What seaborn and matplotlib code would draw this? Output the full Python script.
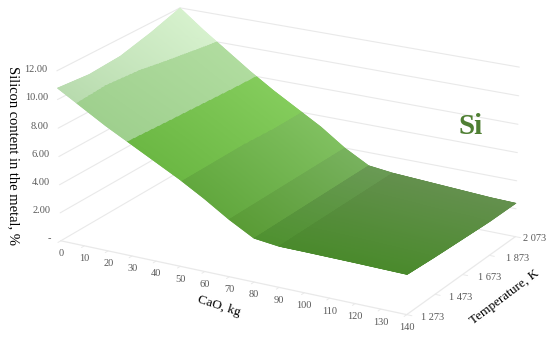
import numpy as np
import matplotlib
matplotlib.use("Agg")
import matplotlib.pyplot as plt
import seaborn as sns

# ==============================
# DATA
# ==============================
cao = [0, 10, 20, 30, 40, 50, 60, 70, 80, 90, 100, 110, 120, 130, 140]
temps = [1273, 1473, 1673, 1873, 2073]
si_1273 = [10.8, 9.8, 8.8, 7.9, 7.0, 6.1, 5.1, 4.0, 3.05, 2.85, 2.84, 2.82, 2.8, 2.77, 2.74]
si_1473 = [10.6, 9.7, 8.85, 8.0, 7.1, 6.1, 5.1, 4.0, 3.05, 2.85, 2.82, 2.78, 2.72, 2.66, 2.6]
si_1673 = [10.75, 9.85, 8.95, 8.1, 7.1, 6.1, 5.1, 4.0, 3.05, 2.85, 2.8, 2.7, 2.62, 2.55, 2.5]
si_1873 = [11.3, 10.25, 9.2, 8.2, 7.2, 6.2, 5.2, 4.0, 3.05, 2.85, 2.75, 2.65, 2.55, 2.5, 2.4]
si_2073 = [12.0, 10.7, 9.5, 8.3, 7.2, 6.2, 5.2, 4.0, 3.05, 2.85, 2.75, 2.65, 2.55, 2.45, 2.4]
si_table = [si_1273, si_1473, si_1673, si_1873, si_2073]

z_ticks = [0, 2, 4, 6, 8, 10, 12]
z_labels = ["-", "2.00", "4.00", "6.00", "8.00", "10.00", "12.00"]
t_labels = ["1 273", "1 473", "1 673", "1 873", "2 073"]

band_levels = [2.85, 3.05, 4, 6, 8, 10]
band_front = ["#4a8a2c", "#4f9130", "#5a9c36", "#62a83e", "#6cb844", "#9fd08e", "#b8dbae"]
band_back = ["#64904e", "#6a9a55", "#78b25e", "#80c060", "#84cc5c", "#b0dc9f", "#d6f1cd"]

# ==============================
# FIGURE
# ==============================
sns.set_theme(style="white")
plt.rcParams["font.family"] = ["Liberation Serif", "DejaVu Serif"]

fig = plt.figure(figsize=(5.5, 3.38), dpi=100)
ax = fig.add_axes([6 / 550, -99 / 338, 1, 550 / 338], projection="3d", computed_zorder=False)
ax.set_proj_type("persp", focal_length=1.21)
ax.view_init(elev=20, azim=-60.5)
ax.set_box_aspect((392, 235, 180), zoom=0.870)
ax.set_xlim(0, 140)
ax.set_ylim(1273, 2073)
ax.set_zlim(0, 12)
ax.set_axis_off()

# walls and floor
grid_col = "#e9e9e9"
for z in z_ticks:
    ax.plot([0, 0], [1273, 2073], [z, z], color=grid_col, lw=0.8, zorder=1)
    ax.plot([0, 140], [2073, 2073], [z, z], color=grid_col, lw=0.8, zorder=1)
ax.plot([0, 140], [1273, 1273], [0, 0], color=grid_col, lw=0.9, zorder=1)
ax.plot([140, 140], [1273, 2073], [0, 0], color=grid_col, lw=0.9, zorder=1)
for x in cao:
    ax.plot([x, x], [1273, 1255], [0, 0], color=grid_col, lw=0.7, zorder=1)
for t in temps:
    ax.plot([140, 142], [t, t], [0, 0], color=grid_col, lw=0.7, zorder=1)

# surface, refined only so that the colour bands get smooth edges
x_fine = np.linspace(cao[0], cao[-1], 701)
y_fine = np.linspace(temps[0], temps[-1], 201)
by_x = np.array([np.interp(x_fine, cao, row) for row in si_table])
z_fine = np.array([np.interp(y_fine, temps, by_x[:, i]) for i in range(len(x_fine))]).T
X, Y = np.meshgrid(x_fine, y_fine)

front = np.array([matplotlib.colors.to_rgb(c) for c in band_front])
back = np.array([matplotlib.colors.to_rgb(c) for c in band_back])
z_mid = (z_fine[:-1, :-1] + z_fine[1:, 1:]) / 2
idx = np.digitize(z_mid, band_levels)
frac = ((Y[:-1, :-1] - temps[0]) / (temps[-1] - temps[0]))[..., None]
face = front[idx] * (1 - frac) + back[idx] * frac
face = np.dstack([face, np.ones(face.shape[:2])])
ax.plot_surface(X, Y, z_fine, facecolors=face, rstride=1, cstride=1,
                shade=False, linewidth=0.3, antialiased=True, zorder=3)

# tick labels
tick_col = "#595959"
for x in cao:
    ax.text(x, 1273, -0.9, str(x), color=tick_col, fontsize=7.5, ha="center", va="center", zorder=5)
for z, lab in zip(z_ticks, z_labels):
    ax.text(-4, 1273, z, lab, color=tick_col, fontsize=7.5, ha="right", va="center", zorder=5)
for t, lab, pad in zip(temps, t_labels, [145.5, 145.5, 146, 146.5, 143]):
    ax.text(pad, t, 0, lab, color=tick_col, fontsize=7.5, ha="left", va="center", zorder=5)

# titles
fig.text(219 / 550, 1 - 306 / 338, "CaO, kg", fontsize=9.5, color="black", rotation=-18, ha="center", va="center")
fig.text(505 / 550, 1 - 297 / 338, "Temperature, K", fontsize=9.5, color="black", rotation=37, ha="center", va="center")
fig.text(13 / 550, 1 - 155 / 338, "Silicon content in the metal, %", fontsize=10.5, color="black", rotation=-90, ha="center", va="center")
fig.text(471 / 550, 1 - 127 / 338, "Si", fontsize=21, color="#4f7f33", weight="bold", ha="center", va="center")

fig.savefig("out.png", dpi=100)
